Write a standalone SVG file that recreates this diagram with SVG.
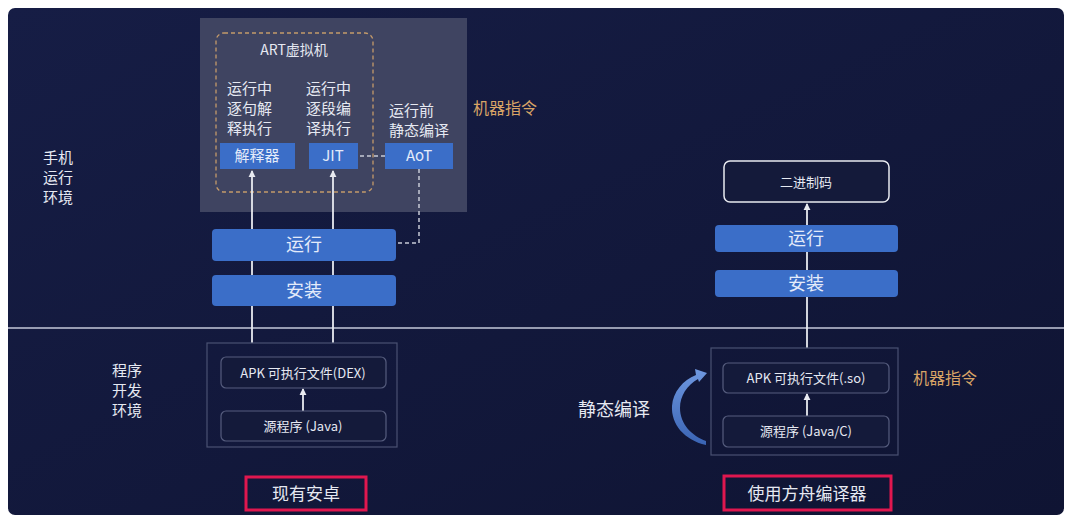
<svg xmlns="http://www.w3.org/2000/svg" width="1071" height="522" viewBox="0 0 1071 522">
<defs>
<style>
text{font-family:"Noto Sans CJK SC","Noto Sans",sans-serif;fill:#e6e9f2}
.lbl{font-size:15px}
.blue{fill:#3b6ec8}
.bt{font-size:18px;text-anchor:middle;fill:#e4ebfa}
.bs{font-size:15px;text-anchor:middle;fill:#e4ebfa}
.mid{text-anchor:middle}
.box{fill:none;stroke:#4a5172;stroke-width:1.2}
.ibox{fill:#141a3a;stroke:#565d7e;stroke-width:1.2}
.orange{fill:#d9a466;font-size:16px}
.red{fill:none;stroke:#e0174f;stroke-width:3}
.wl{stroke:#e8eaf0;stroke-width:1.8;fill:none}
.dash{stroke:#c8cad6;stroke-width:1.5;stroke-dasharray:4 3;fill:none}
</style>
<linearGradient id="bg" x1="0" y1="0" x2="1" y2="1">
<stop offset="0" stop-color="#161d45"/>
<stop offset="1" stop-color="#0f1433"/>
</linearGradient>
<linearGradient id="arc" x1="0" y1="0" x2="0" y2="1">
<stop offset="0" stop-color="#6f98e0"/>
<stop offset="1" stop-color="#3a64b4"/>
</linearGradient>
<marker id="ah" viewBox="0 0 8 8" refX="7" refY="4" markerWidth="4" markerHeight="4" orient="auto">
<path d="M0 0 L8 4 L0 8 Z" fill="#e8eaf0"/>
</marker>
</defs>
<rect width="1071" height="522" fill="#ffffff"/>
<rect x="8" y="8" width="1056" height="507" rx="7" fill="url(#bg)"/>

<g id="divider"><line x1="8" y1="328" x2="1064" y2="328" stroke="#c4c8da" stroke-width="1.6"/></g>

<g id="env-labels">
<text class="lbl" x="43" y="163">手机</text>
<text class="lbl" x="43" y="183">运行</text>
<text class="lbl" x="43" y="203">环境</text>
<text class="lbl" x="112" y="376">程序</text>
<text class="lbl" x="112" y="396">开发</text>
<text class="lbl" x="112" y="416">环境</text>
</g>

<g id="art-area">
<rect x="200" y="18" width="267" height="194" fill="#3f4461"/>
<rect x="216" y="33" width="157" height="159" rx="8" fill="none" stroke="#c49a6a" stroke-width="1.3" stroke-dasharray="4 3"/>
<text class="mid" x="294" y="55" font-size="14">ART虚拟机</text>
<text x="227" y="94" font-size="15">运行中</text>
<text x="227" y="114" font-size="15">逐句解</text>
<text x="227" y="134" font-size="15">释执行</text>
<text x="306" y="94" font-size="15">运行中</text>
<text x="306" y="114" font-size="15">逐段编</text>
<text x="306" y="134" font-size="15">译执行</text>
<text x="389" y="116" font-size="15">运行前</text>
<text x="389" y="136" font-size="15">静态编译</text>
</g>

<g id="connectors">
<line class="wl" x1="252" y1="343" x2="252" y2="171" marker-end="url(#ah)"/>
<line class="wl" x1="333" y1="343" x2="333" y2="171" marker-end="url(#ah)"/>
<line class="dash" x1="360" y1="156" x2="385" y2="156"/>
<polyline class="dash" points="419,169 419,243 397,243"/>
<line class="wl" x1="303" y1="411" x2="303" y2="389" stroke-width="1.5" marker-end="url(#ah)"/>
<line class="wl" x1="807" y1="348" x2="807" y2="204" stroke-width="1.5" marker-end="url(#ah)"/>
<line class="wl" x1="807" y1="416" x2="807" y2="394" stroke-width="1.5" marker-end="url(#ah)"/>
</g>

<g id="interp"><rect class="blue" x="220" y="143" width="75" height="26"/><text class="bs" x="257" y="161">解释器</text></g>
<g id="jit"><rect class="blue" x="309" y="143" width="49" height="26"/><text class="bs" x="333" y="161">JIT</text></g>
<g id="aot"><rect class="blue" x="385" y="143" width="68" height="26"/><text class="bs" x="419" y="161">AoT</text></g>
<g id="machine1"><text class="orange" x="473" y="114">机器指令</text></g>

<g id="run-left"><rect class="blue" x="212" y="229" width="184" height="32" rx="4"/><text class="bt" x="304" y="251">运行</text></g>
<g id="install-left"><rect class="blue" x="212" y="275" width="184" height="31" rx="4"/><text class="bt" x="304" y="297">安装</text></g>

<g id="dev-left">
<rect class="box" x="207" y="343" width="190" height="104"/>
<rect class="ibox" x="221" y="357" width="165" height="31" rx="5"/>
<text class="mid" x="303" y="378" font-size="13">APK 可执行文件(DEX)</text>
<rect class="ibox" x="221" y="411" width="165" height="30" rx="5"/>
<text class="mid" x="303" y="431" font-size="13">源程序 (Java)</text>
</g>

<g id="label-left"><rect class="red" x="246" y="477" width="120" height="33"/><text class="mid" x="306" y="500" font-size="17">现有安卓</text></g>

<g id="binary"><rect x="724" y="161" width="165" height="41" rx="6" fill="#141a3a" stroke="#e8eaf0" stroke-width="1.5"/><text class="mid" x="806" y="187" font-size="13">二进制码</text></g>
<g id="run-right"><rect class="blue" x="715" y="225" width="183" height="27" rx="4"/><text class="bt" x="806" y="245">运行</text></g>
<g id="install-right"><rect class="blue" x="715" y="270" width="183" height="27" rx="4"/><text class="bt" x="806" y="290">安装</text></g>

<g id="dev-right">
<rect class="box" x="711" y="348" width="187" height="107"/>
<rect class="ibox" x="723" y="363" width="166" height="30" rx="5"/>
<text class="mid" x="806" y="383" font-size="13">APK 可执行文件(.so)</text>
<rect class="ibox" x="723" y="416" width="166" height="31" rx="5"/>
<text class="mid" x="806" y="436" font-size="13">源程序 (Java/C)</text>
</g>
<g id="machine2"><text class="orange" x="913" y="384">机器指令</text></g>

<g id="static-compile">
<text x="578" y="416" font-size="18">静态编译</text>
<path d="M706 445 C684 440 671 424 672 406 C673 392 683 380 696 375 L695 369 L707 373 L699 382 L698 379 C687 385 680 396 680 408 C680 424 692 436 706 441 Z" fill="url(#arc)"/>
</g>

<g id="label-right"><rect class="red" x="724" y="476" width="167" height="34"/><text class="mid" x="807" y="500" font-size="17">使用方舟编译器</text></g>
</svg>
